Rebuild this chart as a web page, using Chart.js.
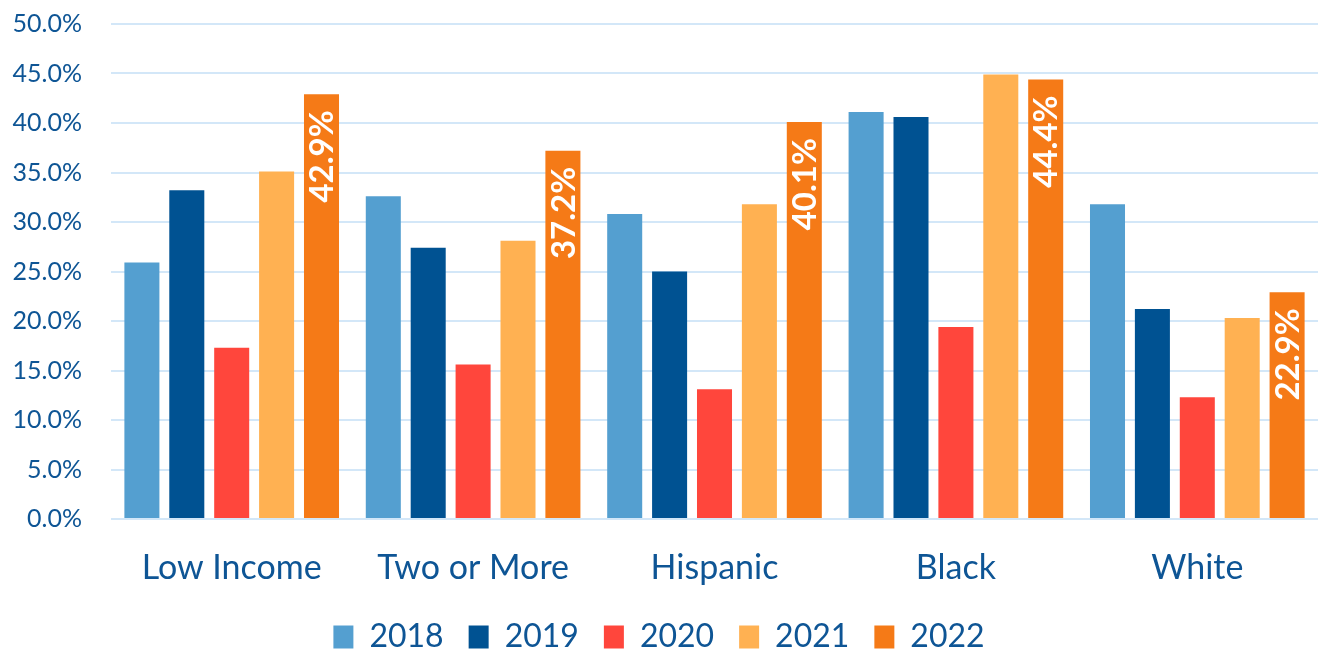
<!DOCTYPE html>
<html>
<head>
<meta charset="utf-8">
<script src="https://cdn.jsdelivr.net/npm/chart.js@4.4.1/dist/chart.umd.min.js"></script>
<style>
html,body{margin:0;padding:0;background:#fff;}
#wrap{width:1318px;height:650px;}
</style>
</head>
<body>
<div id="wrap"><canvas id="c" width="1318" height="650"></canvas></div>
<script>
const categories = ["Low Income", "Two or More", "Hispanic", "Black", "White"];
const years = ["2018", "2019", "2020", "2021", "2022"];
const v2018 = [25.9, 32.6, 30.8, 41.1, 31.8];
const v2019 = [33.2, 27.4, 25.0, 40.6, 21.2];
const v2020 = [17.3, 15.6, 13.1, 19.4, 12.3];
const v2021 = [35.1, 28.1, 31.8, 44.9, 20.3];
const v2022 = [42.9, 37.2, 40.1, 44.4, 22.9];
const yTicks = [0, 5, 10, 15, 20, 25, 30, 35, 40, 45, 50];
const colors = ["#549FD0", "#005292", "#FF463C", "#FFB152", "#F57A17"];
const labelledSeries = [4];

const textColor = "#0E5595";
const fontFamily = "Lato, 'Open Sans', sans-serif";

const seriesValues = [v2018, v2019, v2020, v2021, v2022];
const datasets = years.map((y, i) => ({
  label: y,
  data: seriesValues[i],
  backgroundColor: colors[i],
  borderWidth: 0
}));

const labelPlugin = {
  id: 'vlabels',
  afterDatasetsDraw(chart) {
    const ctx = chart.ctx;
    labelledSeries.forEach(di => {
      const meta = chart.getDatasetMeta(di);
      meta.data.forEach((bar, j) => {
        const txt = chart.data.datasets[di].data[j].toFixed(1) + "%";
        ctx.save();
        ctx.translate(bar.x, bar.y + 16);
        ctx.rotate(-Math.PI / 2);
        ctx.fillStyle = "#ffffff";
        ctx.font = "bold 33px " + fontFamily;
        ctx.textAlign = "right";
        ctx.textBaseline = "middle";
        ctx.fillText(txt, 0, 1);
        ctx.restore();
      });
    });
  }
};

new Chart(document.getElementById('c'), {
  type: 'bar',
  data: { labels: categories, datasets },
  plugins: [labelPlugin],
  options: {
    responsive: false,
    animation: false,
    layout: { padding: { top: 24, right: 0, left: 0, bottom: -13 } },
    datasets: { bar: { categoryPercentage: 0.93, barPercentage: 0.78 } },
    plugins: {
      tooltip: { enabled: false },
      legend: {
        position: 'bottom',
        labels: {
          color: textColor,
          font: { family: fontFamily, size: 32 },
          boxWidth: 20,
          boxHeight: 23,
          padding: 25,
          useBorderRadius: false
        }
      }
    },
    scales: {
      x: {
        grid: { display: false },
        border: { display: false },
        afterFit(scale) { scale.height = 77; },
        ticks: { color: textColor, font: { family: fontFamily, size: 34 }, padding: 21 }
      },
      y: {
        min: 0, max: 50,
        afterFit(scale) { scale.width = 111; scale.paddingTop = 0; scale.paddingBottom = 0; },
        afterBuildTicks(scale) { scale.ticks = yTicks.map(v => ({ value: v })); },
        grid: { color: "#D3E7F8", lineWidth: 2, drawTicks: false },
        border: { display: false },
        ticks: {
          color: textColor,
          font: { family: fontFamily, size: 25 },
          padding: 29,
          callback: v => v.toFixed(1) + "%"
        }
      }
    }
  }
});
</script>
</body>
</html>
